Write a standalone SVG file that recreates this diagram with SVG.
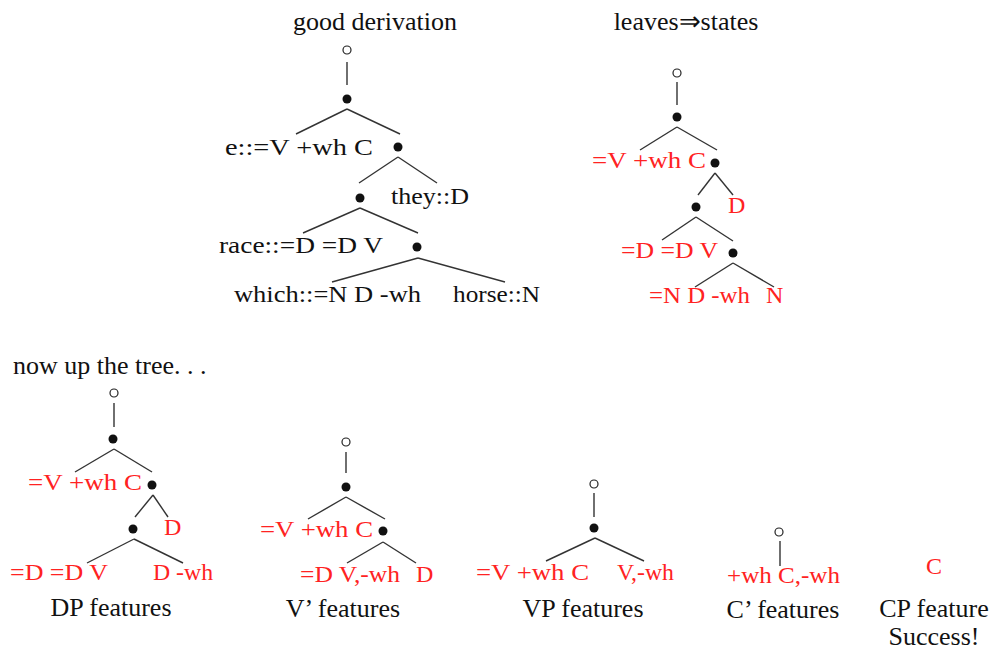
<svg xmlns="http://www.w3.org/2000/svg" width="996" height="653" viewBox="0 0 996 653">
<style>
text{font-family:"Liberation Serif","Times New Roman",serif}
.cap{font-size:26px;fill:#111}
.lb{font-size:24px;fill:#111}
.rd{font-size:24px;fill:#f22}
.e{stroke:#333;stroke-width:1.4;fill:none}
.o{fill:#fff;stroke:#222;stroke-width:1.2}
.d{fill:#111}
.m{text-anchor:middle}
</style>
<rect width="996" height="653" fill="#fff"/>
<g id="connectors">
<line class="e" x1="347" y1="62" x2="347" y2="85"/>
<line class="e" x1="347" y1="109" x2="296" y2="134"/>
<line class="e" x1="347" y1="109" x2="400" y2="134"/>
<line class="e" x1="398" y1="157" x2="359" y2="183"/>
<line class="e" x1="398" y1="157" x2="437" y2="183"/>
<line class="e" x1="360" y1="208" x2="303" y2="233"/>
<line class="e" x1="360" y1="208" x2="418" y2="233"/>
<line class="e" x1="418" y1="258" x2="332" y2="282"/>
<line class="e" x1="418" y1="258" x2="505" y2="282"/>
<line class="e" x1="677" y1="82" x2="677" y2="105"/>
<line class="e" x1="677" y1="127" x2="640" y2="150"/>
<line class="e" x1="677" y1="127" x2="717" y2="150"/>
<line class="e" x1="715" y1="173" x2="698" y2="195"/>
<line class="e" x1="715" y1="173" x2="733" y2="195"/>
<line class="e" x1="696" y1="217" x2="662" y2="240"/>
<line class="e" x1="696" y1="217" x2="733" y2="241"/>
<line class="e" x1="733" y1="263" x2="695" y2="287"/>
<line class="e" x1="733" y1="263" x2="774" y2="287"/>
<line class="e" x1="114" y1="403" x2="114" y2="427"/>
<line class="e" x1="114" y1="449" x2="75" y2="472"/>
<line class="e" x1="114" y1="449" x2="152" y2="472"/>
<line class="e" x1="153" y1="495" x2="135" y2="517"/>
<line class="e" x1="153" y1="495" x2="168" y2="517"/>
<line class="e" x1="134" y1="539" x2="87" y2="563"/>
<line class="e" x1="134" y1="539" x2="183" y2="563"/>
<line class="e" x1="346" y1="452" x2="346" y2="473"/>
<line class="e" x1="346" y1="497" x2="308" y2="519"/>
<line class="e" x1="346" y1="497" x2="385" y2="519"/>
<line class="e" x1="383" y1="542" x2="347" y2="563"/>
<line class="e" x1="383" y1="542" x2="416" y2="563"/>
<line class="e" x1="594" y1="493" x2="594" y2="517"/>
<line class="e" x1="595" y1="538" x2="546" y2="561"/>
<line class="e" x1="595" y1="538" x2="644" y2="561"/>
<line class="e" x1="780" y1="541" x2="780" y2="566"/>
</g>
<g id="titles">
<text class="cap m" x="375" y="30">good derivation</text>
<text class="cap m" x="686" y="30">leaves⇒states</text>
<text class="cap" x="13" y="374">now up the tree. . .</text>
</g>
<g id="tree-derivation">
<circle class="o" cx="347" cy="50" r="4"/>
<circle class="d" cx="347" cy="99" r="4.5"/>
<circle class="d" cx="398" cy="147" r="4.5"/>
<circle class="d" cx="360" cy="198" r="4.5"/>
<circle class="d" cx="417" cy="247" r="4.5"/>
<text class="lb" x="225" y="155" textLength="148" lengthAdjust="spacingAndGlyphs">e::=V +wh C</text>
<text class="lb" x="391" y="204" textLength="78" lengthAdjust="spacingAndGlyphs">they::D</text>
<text class="lb" x="219" y="253" textLength="164" lengthAdjust="spacingAndGlyphs">race::=D =D V</text>
<text class="lb" x="234" y="302" textLength="187" lengthAdjust="spacingAndGlyphs">which::=N D -wh</text>
<text class="lb" x="453" y="302" textLength="87" lengthAdjust="spacingAndGlyphs">horse::N</text>
</g>
<g id="tree-states">
<circle class="o" cx="677" cy="73" r="4"/>
<circle class="d" cx="677" cy="117" r="4.5"/>
<circle class="d" cx="715" cy="163" r="4.5"/>
<circle class="d" cx="696" cy="207" r="4.5"/>
<circle class="d" cx="733" cy="253" r="4.5"/>
<text class="rd" x="592" y="168" textLength="114" lengthAdjust="spacingAndGlyphs">=V +wh C</text>
<text class="rd" x="728" y="213">D</text>
<text class="rd" x="621" y="258" textLength="97" lengthAdjust="spacingAndGlyphs">=D =D V</text>
<text class="rd" x="649" y="303" textLength="101" lengthAdjust="spacingAndGlyphs">=N D -wh</text>
<text class="rd" x="766" y="303">N</text>
</g>
<g id="tree-dp">
<circle class="o" cx="114" cy="393" r="4"/>
<circle class="d" cx="113" cy="439" r="4.5"/>
<circle class="d" cx="152" cy="485" r="4.5"/>
<circle class="d" cx="133" cy="529" r="4.5"/>
<text class="rd" x="28" y="490" textLength="114" lengthAdjust="spacingAndGlyphs">=V +wh C</text>
<text class="rd" x="164" y="535">D</text>
<text class="rd" x="10" y="580" textLength="98" lengthAdjust="spacingAndGlyphs">=D =D V</text>
<text class="rd" x="153" y="580" textLength="60" lengthAdjust="spacingAndGlyphs">D -wh</text>
<text class="cap m" x="111" y="616">DP features</text>
</g>
<g id="tree-vbar">
<circle class="o" cx="346" cy="442" r="4"/>
<circle class="d" cx="346" cy="487" r="4.5"/>
<circle class="d" cx="383" cy="531" r="4.5"/>
<text class="rd" x="260" y="537" textLength="113" lengthAdjust="spacingAndGlyphs">=V +wh C</text>
<text class="rd" x="300" y="582" textLength="100" lengthAdjust="spacingAndGlyphs">=D V,-wh</text>
<text class="rd" x="416" y="582">D</text>
<text class="cap m" x="343" y="617">V’ features</text>
</g>
<g id="tree-vp">
<circle class="o" cx="594" cy="484" r="4"/>
<circle class="d" cx="594" cy="528" r="4.5"/>
<text class="rd" x="476" y="580" textLength="113" lengthAdjust="spacingAndGlyphs">=V +wh C</text>
<text class="rd" x="617" y="580" textLength="57" lengthAdjust="spacingAndGlyphs">V,-wh</text>
<text class="cap m" x="583" y="617">VP features</text>
</g>
<g id="tree-cbar">
<circle class="o" cx="779" cy="532" r="4"/>
<text class="rd" x="727" y="583" textLength="113" lengthAdjust="spacingAndGlyphs">+wh C,-wh</text>
<text class="cap m" x="783" y="618">C’ features</text>
</g>
<g id="tree-cp">
<text class="rd m" x="934" y="574">C</text>
<text class="cap m" x="934" y="617">CP feature</text>
<text class="cap m" x="934" y="645">Success!</text>
</g>
</svg>
